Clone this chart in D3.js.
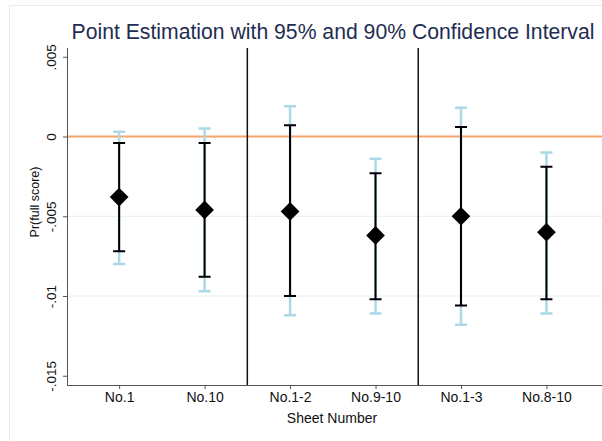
<!DOCTYPE html>
<html>
<head>
<meta charset="utf-8">
<script src="https://cdn.jsdelivr.net/npm/d3@7/dist/d3.min.js"></script>
<style>
  html, body { margin: 0; padding: 0; background: #fff; }
  svg { display: block; font-family: "Liberation Sans", Arial, Helvetica, sans-serif; }
</style>
</head>
<body>
<svg id="chart" width="602" height="441"></svg>
<script>
// Sheet groups along the x axis
const categories = ["No.1", "No.10", "No.1-2", "No.9-10", "No.1-3", "No.8-10"];
// Point estimates of Pr(full score)
const estimates = [-0.0038, -0.0046, -0.0047, -0.0062, -0.0050, -0.0060];
// 90% confidence interval bounds
const ci90Low  = [-0.0072, -0.0088, -0.0100, -0.0102, -0.0106, -0.0102];
const ci90High = [-0.0004, -0.0004,  0.0007, -0.0023,  0.0006, -0.0019];
// 95% confidence interval bounds
const ci95Low  = [-0.0080, -0.0097, -0.0112, -0.0111, -0.0118, -0.0111];
const ci95High = [ 0.0003,  0.0005,  0.0019, -0.0014,  0.0018, -0.0010];
// Y axis ticks and labels
const yTicks = [0.005, 0, -0.005, -0.01, -0.015];
const yTickLabels = [".005", "0", "-.005", "-.01", "-.015"];
// Separators between the single, paired and triple sheet groups
const separators = [2.5, 4.5];
const referenceValue = 0;

const svg = d3.select("#chart");
const W = 602, H = 441;
const plot = { left: 67, right: 602, top: 48, bottom: 385 };

// Outer graph region frame
svg.append("rect")
  .attr("x", 9.5).attr("y", 5.5)
  .attr("width", W).attr("height", H)
  .attr("fill", "#fff").attr("stroke", "#ececec").attr("stroke-width", 1);

const x = d3.scaleLinear().domain([0.39, 6.65]).range([plot.left, plot.right]);
const y = d3.scaleLinear().domain([-0.01558, 0.00555]).range([plot.bottom, plot.top]);

const data = categories.map((c, i) => ({
  cat: c, pos: i + 1, est: estimates[i],
  lo90: ci90Low[i], hi90: ci90High[i],
  lo95: ci95Low[i], hi95: ci95High[i]
}));

// Horizontal grid lines
svg.append("g").selectAll("line")
  .data(yTicks.filter(t => t < 0.004 && t > -0.014))
  .join("line")
  .attr("x1", plot.left).attr("x2", plot.right)
  .attr("y1", d => y(d)).attr("y2", d => y(d))
  .attr("stroke", "#e6eef0").attr("stroke-width", 1);

// Reference line at zero
svg.append("line")
  .attr("x1", plot.left).attr("x2", plot.right)
  .attr("y1", y(referenceValue)).attr("y2", y(referenceValue))
  .attr("stroke", "#f4a46a").attr("stroke-width", 2);

// Group separators
svg.append("g").selectAll("line")
  .data(separators)
  .join("line")
  .attr("x1", d => x(d)).attr("x2", d => x(d))
  .attr("y1", plot.top).attr("y2", plot.bottom)
  .attr("stroke", "#111").attr("stroke-width", 1.5);

// Axes
const yAxis = d3.axisLeft(y).tickValues(yTicks)
  .tickFormat((d, i) => yTickLabels[i]).tickSize(4).tickSizeOuter(0);
const gy = svg.append("g").attr("transform", `translate(${plot.left},0)`).call(yAxis);
gy.select(".domain").attr("stroke", "#555").attr("d", `M0.5,${plot.top}V${plot.bottom}`);
gy.selectAll(".tick line").attr("stroke", "#555");
gy.selectAll(".tick text")
  .attr("font-size", 13.5).attr("fill", "#111")
  .attr("text-anchor", "middle")
  .attr("transform", "rotate(-90)")
  .attr("x", 0).attr("dx", 0)
  .attr("y", -11).attr("dy", 0);

const xAxis = d3.axisBottom(x).tickValues(data.map(d => d.pos))
  .tickFormat((d, i) => categories[i]).tickSize(4).tickSizeOuter(0);
const gx = svg.append("g").attr("transform", `translate(0,${plot.bottom})`).call(xAxis);
gx.select(".domain").attr("stroke", "#555").attr("d", `M${plot.left},0.5H${plot.right}`);
gx.selectAll(".tick line").attr("stroke", "#555");
gx.selectAll(".tick text").attr("font-size", 14).attr("fill", "#111").attr("y", 7).attr("dy", "0.71em");

// Axis titles
svg.append("text")
  .attr("x", 332).attr("y", 423)
  .attr("text-anchor", "middle").attr("font-size", 14).attr("fill", "#111")
  .text("Sheet Number");
svg.append("text")
  .attr("transform", "translate(39,202) rotate(-90)")
  .attr("text-anchor", "middle").attr("font-size", 12.5).attr("fill", "#111")
  .text("Pr(full score)");

// Chart title
svg.append("text")
  .attr("x", 333).attr("y", 39)
  .attr("text-anchor", "middle").attr("font-size", 21.2).attr("fill", "#1f2d52")
  .text("Point Estimation with 95% and 90% Confidence Interval");

// Error bars: 95% (light blue) below, 90% (black) above
function drawBars(cls, lo, hi, color, width, cap) {
  const g = svg.append("g").attr("class", cls)
    .attr("stroke", color).attr("stroke-width", width).attr("fill", "none");
  g.selectAll("path")
    .data(data)
    .join("path")
    .attr("d", d => {
      const cx = x(d.pos), y1 = y(d[hi]), y2 = y(d[lo]);
      return `M${cx},${y1}V${y2}M${cx - cap},${y1}H${cx + cap}M${cx - cap},${y2}H${cx + cap}`;
    });
}
drawBars("ci95", "lo95", "hi95", "#add8e6", 2.5, 6);
drawBars("ci90", "lo90", "hi90", "#000", 2, 6);

// Point estimates as diamonds
const diamond = {
  draw(ctx, size) {
    const r = Math.sqrt(size / 2);
    ctx.moveTo(0, -r); ctx.lineTo(r, 0); ctx.lineTo(0, r); ctx.lineTo(-r, 0); ctx.closePath();
  }
};
svg.append("g").selectAll("path")
  .data(data)
  .join("path")
  .attr("transform", d => `translate(${x(d.pos)},${y(d.est)})`)
  .attr("d", d3.symbol(diamond, 175))
  .attr("fill", "#000");
</script>
</body>
</html>
